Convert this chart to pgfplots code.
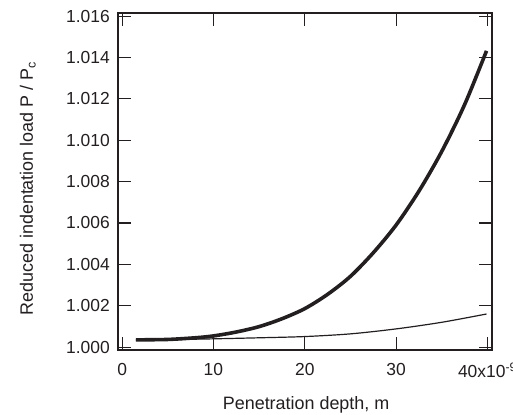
\documentclass[border=0pt]{standalone}
\usepackage{pgfplots}
\pgfplotsset{compat=1.18}
\usepackage{pgfplotstable}
\usepackage{fontspec}
\setmainfont{Liberation Sans}
\definecolor{ink}{HTML}{231F20}
\pgfplotstableread{
x y
1.5 1.00035
5 1.00037
8 1.00045
10 1.00054
12.5 1.00073
15 1.00099
17.5 1.00137
20 1.00186
22.5 1.00255
25 1.00342
27.5 1.00456
30 1.00590
32.5 1.00754
35 1.00946
37.5 1.01172
39.9 1.01432
}\thick
\pgfplotstableread{
x y
1.5 1.00034
5 1.00036
10 1.00040
15 1.00045
20 1.00051
25 1.00064
30 1.00088
35 1.00120
39.9 1.00160
}\thin
\begin{document}
\fontsize{18}{21}\selectfont
\begin{tikzpicture}
\begin{axis}[
  name=ax,
  scale only axis,
  width=374bp, height=337bp,
  xmin=-0.45, xmax=40.5,
  ymin=0.99986, ymax=1.01615,
  xtick={0,10,20,30,40},
  xticklabels={0,10,20,30,40x10\textsuperscript{-9}},
  ytick={1.000,1.002,1.004,1.006,1.008,1.010,1.012,1.014,1.016},
  yticklabels={1.000,1.002,1.004,1.006,1.008,1.010,1.012,1.014,1.016},
  tick align=inside,
  major tick length=13bp,
  minor tick num=0,
  axis line style={ink, line width=1.4bp},
  every tick/.style={ink, line width=1.2bp},
  xticklabel style={yshift=-7bp, font=\fontsize{17.5}{20}\selectfont, text=ink},
  yticklabel style={xshift=-2bp, font=\fontsize{17.5}{20}\selectfont, text=ink},
  scaled ticks=false,
  xlabel={Penetration depth, m},
  ylabel={Reduced indentation load P / P\textsubscript{c}},
  xlabel style={at={(axis description cs:0.503,0)}, anchor=base, yshift=-59bp, font=\fontsize{18}{21}\selectfont, text=ink},
  ylabel style={at={(axis description cs:-0.2273,0.479)}, anchor=base, font=\fontsize{18}{21}\selectfont, text=ink},
  clip=false,
]
\addplot[ink, line width=3.6bp, smooth, tension=0.5] table[x=x,y=y] {\thick};
\addplot[ink, line width=1.2bp, smooth, tension=0.5] table[x=x,y=y] {\thin};
\end{axis}
\pgfresetboundingbox
\useasboundingbox ([xshift=-118bp,yshift=-65bp]ax.south west) rectangle ([xshift=21bp,yshift=13bp]ax.north east);
\end{tikzpicture}
\end{document}
